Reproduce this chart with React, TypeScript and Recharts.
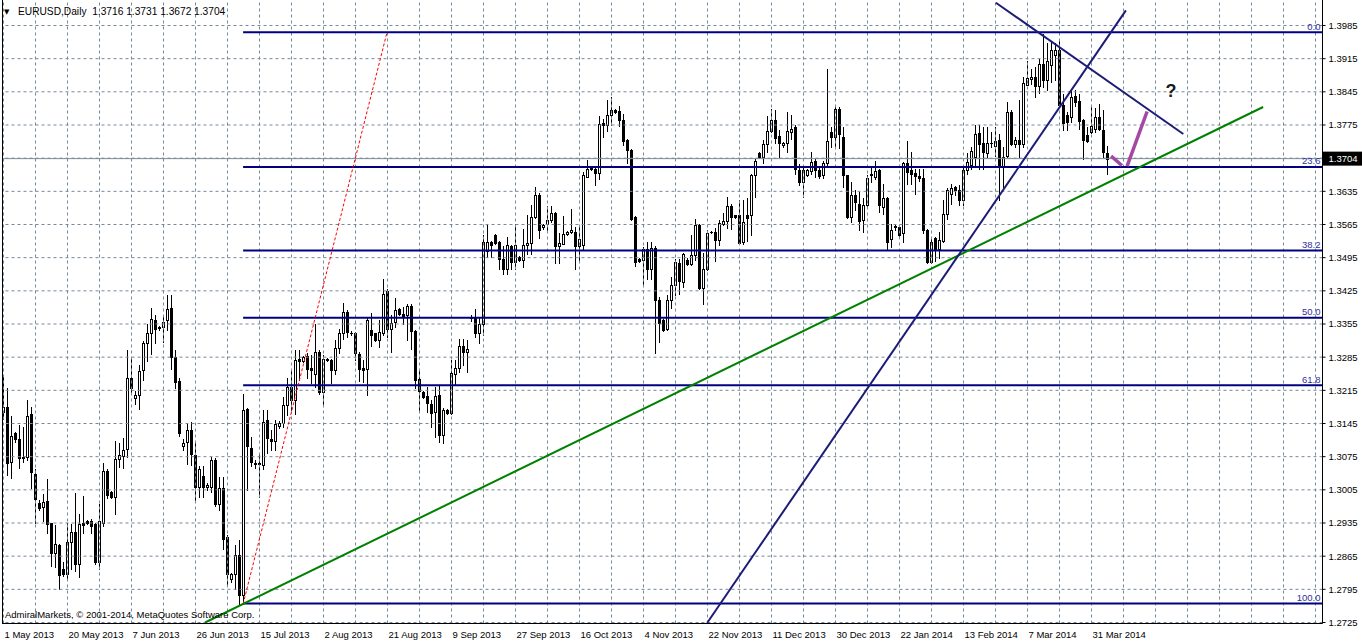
import React from 'react';
import { ComposedChart, Bar, XAxis, YAxis, ReferenceLine, ReferenceDot } from 'recharts';

// ---- daily candles (bar index 0 = 1 May 2013 ... 276 = 4 Apr 2014) ----
const opens = [
  1.3170,1.3179,1.3064,1.3124,1.3112,1.3075,1.3074,1.3166,1.3038,1.2977,
  1.2968,1.2981,1.2934,1.2872,1.2888,1.2837,1.2828,1.2895,1.2915,1.2848,
  1.2935,1.2939,1.2939,1.2932,1.2853,1.2936,1.3045,1.3000,1.2990,1.3070,
  1.3076,1.3092,1.3240,1.3198,1.3205,1.3257,1.3314,1.3337,1.3364,1.3346,
  1.3348,1.3363,1.3388,1.3285,1.3235,1.3098,1.3105,1.3131,1.3078,1.3011,
  1.3034,1.3012,1.3012,1.3067,1.2976,1.3008,1.2906,1.2816,1.2827,1.2867,
  1.2783,1.3176,1.3094,1.3062,1.3059,1.3058,1.3152,1.3113,1.3108,1.3139,
  1.3146,1.3183,1.3222,1.3194,1.3282,1.3277,1.3287,1.3262,1.3250,1.3296,
  1.3212,1.3280,1.3280,1.3257,1.3305,1.3336,1.3380,1.3336,1.3336,1.3292,
  1.3262,1.3259,1.3343,1.3335,1.3321,1.3335,1.3424,1.3345,1.3359,1.3386,
  1.3377,1.3373,1.3392,1.3340,1.3238,1.3212,1.3203,1.3187,1.3169,1.3205,
  1.3120,1.3174,1.3167,1.3250,1.3263,1.3308,1.3296,1.3368,1.3370,1.3336,
  1.3356,1.3509,1.3528,1.3542,1.3528,1.3493,1.3472,1.3519,1.3486,1.3496,
  1.3491,1.3521,1.3525,1.3580,1.3628,1.3559,1.3567,1.3574,1.3589,1.3519,
  1.3524,1.3545,1.3549,1.3550,1.3519,1.3521,1.3666,1.3682,1.3683,1.3674,
  1.3779,1.3776,1.3797,1.3807,1.3804,1.3786,1.3743,1.3723,1.3581,1.3493,
  1.3491,1.3514,1.3472,1.3516,1.3406,1.3363,1.3345,1.3406,1.3437,1.3483,
  1.3444,1.3491,1.3481,1.3500,1.3563,1.3430,1.3472,1.3549,1.3549,1.3533,
  1.3567,1.3572,1.3603,1.3584,1.3584,1.3528,1.3584,1.3586,1.3669,1.3715,
  1.3707,1.3735,1.3762,1.3785,1.3751,1.3732,1.3738,1.3760,1.3771,1.3681,
  1.3655,1.3670,1.3677,1.3698,1.3681,1.3670,1.3694,1.3761,1.3749,1.3808,
  1.3750,1.3669,1.3581,1.3628,1.3609,1.3574,1.3606,1.3672,1.3665,1.3679,
  1.3602,1.3620,1.3535,1.3559,1.3560,1.3548,1.3694,1.3679,1.3674,1.3667,
  1.3663,1.3553,1.3486,1.3536,1.3514,1.3530,1.3588,1.3630,1.3644,1.3637,
  1.3616,1.3679,1.3690,1.3707,1.3759,1.3737,1.3716,1.3736,1.3731,1.3744,
  1.3687,1.3709,1.3802,1.3734,1.3744,1.3734,1.3860,1.3873,1.3877,1.3857,
  1.3903,1.3871,1.3901,1.3922,1.3934,1.3817,1.3796,1.3792,1.3837,1.3826,
  1.3785,1.3753,1.3760,1.3767,1.3792,1.3764,1.3716,
];
const highs = [
  1.3243,1.3219,1.3160,1.3128,1.3142,1.3138,1.3194,1.3180,1.3050,1.2984,
  1.2997,1.3028,1.2935,1.2930,1.2890,1.2852,1.2934,1.2932,1.2998,1.2955,
  1.2993,1.2941,1.2944,1.2934,1.2976,1.3061,1.3049,1.3002,1.3108,1.3103,
  1.3115,1.3300,1.3285,1.3213,1.3268,1.3319,1.3356,1.3389,1.3373,1.3350,
  1.3373,1.3416,1.3416,1.3300,1.3240,1.3113,1.3145,1.3148,1.3103,1.3055,
  1.3055,1.3020,1.3075,1.3072,1.3032,1.3032,1.2910,1.2830,1.2888,1.2899,
  1.3208,1.3178,1.3117,1.3068,1.3081,1.3173,1.3173,1.3131,1.3152,1.3150,
  1.3201,1.3240,1.3261,1.3300,1.3300,1.3288,1.3293,1.3290,1.3356,1.3300,
  1.3289,1.3283,1.3282,1.3321,1.3345,1.3400,1.3385,1.3340,1.3338,1.3295,
  1.3280,1.3368,1.3378,1.3337,1.3363,1.3451,1.3428,1.3373,1.3409,1.3389,
  1.3391,1.3398,1.3398,1.3342,1.3257,1.3213,1.3222,1.3194,1.3222,1.3226,
  1.3177,1.3176,1.3280,1.3280,1.3324,1.3324,1.3322,1.3374,1.3386,1.3370,
  1.3543,1.3567,1.3530,1.3545,1.3531,1.3519,1.3539,1.3521,1.3565,1.3498,
  1.3556,1.3584,1.3607,1.3644,1.3631,1.3566,1.3605,1.3605,1.3591,1.3547,
  1.3582,1.3552,1.3597,1.3560,1.3560,1.3675,1.3702,1.3685,1.3686,1.3793,
  1.3788,1.3827,1.3834,1.3809,1.3816,1.3799,1.3745,1.3725,1.3582,1.3495,
  1.3517,1.3528,1.3528,1.3519,1.3412,1.3365,1.3416,1.3454,1.3493,1.3493,
  1.3505,1.3494,1.3542,1.3577,1.3567,1.3504,1.3553,1.3552,1.3558,1.3575,
  1.3589,1.3622,1.3609,1.3586,1.3616,1.3616,1.3620,1.3672,1.3704,1.3718,
  1.3744,1.3795,1.3809,1.3806,1.3764,1.3740,1.3802,1.3797,1.3774,1.3693,
  1.3690,1.3682,1.3717,1.3704,1.3686,1.3700,1.3894,1.3771,1.3817,1.3813,
  1.3771,1.3670,1.3655,1.3637,1.3634,1.3620,1.3669,1.3686,1.3700,1.3683,
  1.3651,1.3623,1.3567,1.3567,1.3563,1.3697,1.3741,1.3718,1.3683,1.3683,
  1.3683,1.3555,1.3537,1.3538,1.3549,1.3616,1.3642,1.3651,1.3646,1.3648,
  1.3686,1.3715,1.3728,1.3774,1.3774,1.3771,1.3771,1.3760,1.3771,1.3757,
  1.3728,1.3823,1.3806,1.3750,1.3827,1.3876,1.3911,1.3894,1.3897,1.3915,
  1.3967,1.3948,1.3950,1.3947,1.3954,1.3841,1.3803,1.3848,1.3848,1.3841,
  1.3788,1.3771,1.3817,1.3810,1.3820,1.3806,1.3731,
];
const lows = [
  1.3155,1.3036,1.3031,1.3106,1.3051,1.3063,1.3068,1.3009,1.2934,1.2963,
  1.2939,1.2913,1.2844,1.2842,1.2795,1.2823,1.2818,1.2837,1.2834,1.2820,
  1.2913,1.2933,1.2914,1.2848,1.2837,1.2929,1.2987,1.2987,1.2954,1.3053,
  1.3052,1.3074,1.3208,1.3186,1.3176,1.3236,1.3277,1.3292,1.3314,1.3343,
  1.3317,1.3342,1.3261,1.3219,1.3118,1.3090,1.3059,1.3057,1.2983,1.2990,
  1.2990,1.3005,1.3000,1.2970,1.2962,1.2881,1.2804,1.2810,1.2795,1.2762,
  1.2765,1.3004,1.3055,1.3052,1.2990,1.3050,1.3082,1.3089,1.3089,1.3136,
  1.3138,1.3162,1.3173,1.3166,1.3236,1.3274,1.3240,1.3230,1.3222,1.3208,
  1.3187,1.3276,1.3231,1.3250,1.3293,1.3324,1.3328,1.3332,1.3278,1.3235,
  1.3232,1.3205,1.3308,1.3320,1.3307,1.3331,1.3328,1.3296,1.3349,1.3375,
  1.3356,1.3321,1.3303,1.3219,1.3169,1.3198,1.3169,1.3138,1.3117,1.3106,
  1.3103,1.3165,1.3165,1.3228,1.3254,1.3268,1.3254,1.3362,1.3328,1.3315,
  1.3331,1.3496,1.3496,1.3524,1.3472,1.3461,1.3461,1.3472,1.3472,1.3489,
  1.3475,1.3503,1.3503,1.3578,1.3537,1.3556,1.3549,1.3570,1.3484,1.3484,
  1.3523,1.3542,1.3546,1.3472,1.3490,1.3511,1.3666,1.3680,1.3649,1.3662,
  1.3750,1.3762,1.3774,1.3800,1.3772,1.3732,1.3694,1.3574,1.3477,1.3486,
  1.3437,1.3451,1.3449,1.3293,1.3317,1.3341,1.3342,1.3388,1.3416,1.3418,
  1.3433,1.3480,1.3479,1.3491,1.3428,1.3398,1.3468,1.3546,1.3489,1.3521,
  1.3563,1.3558,1.3556,1.3579,1.3523,1.3523,1.3530,1.3542,1.3623,1.3705,
  1.3694,1.3718,1.3760,1.3736,1.3707,1.3729,1.3718,1.3746,1.3672,1.3649,
  1.3623,1.3668,1.3672,1.3665,1.3663,1.3663,1.3690,1.3728,1.3728,1.3726,
  1.3644,1.3578,1.3570,1.3595,1.3553,1.3549,1.3602,1.3655,1.3660,1.3591,
  1.3588,1.3514,1.3518,1.3553,1.3539,1.3528,1.3651,1.3651,1.3630,1.3656,
  1.3546,1.3483,1.3483,1.3489,1.3494,1.3528,1.3577,1.3609,1.3627,1.3606,
  1.3606,1.3672,1.3683,1.3686,1.3683,1.3683,1.3707,1.3729,1.3710,1.3616,
  1.3644,1.3707,1.3732,1.3729,1.3707,1.3729,1.3860,1.3862,1.3834,1.3843,
  1.3855,1.3848,1.3866,1.3869,1.3813,1.3764,1.3764,1.3781,1.3816,1.3767,
  1.3704,1.3739,1.3758,1.3760,1.3764,1.3707,1.3672,
];
const closes = [
  1.3180,1.3062,1.3118,1.3112,1.3072,1.3073,1.3160,1.3043,1.2985,1.2967,
  1.2979,1.2932,1.2872,1.2890,1.2826,1.2828,1.2895,1.2915,1.2848,1.2932,
  1.2930,1.2935,1.2929,1.2853,1.2939,1.3045,1.2995,1.2990,1.3071,1.3078,
  1.3090,1.3240,1.3219,1.3205,1.3255,1.3314,1.3337,1.3366,1.3345,1.3348,
  1.3360,1.3386,1.3285,1.3232,1.3124,1.3104,1.3131,1.3080,1.3011,1.3050,
  1.3012,1.3015,1.3067,1.2976,1.3008,1.2902,1.2828,1.2827,1.2868,1.2783,
  1.3174,1.3097,1.3063,1.3059,1.3062,1.3148,1.3115,1.3108,1.3145,1.3146,
  1.3183,1.3222,1.3194,1.3280,1.3277,1.3285,1.3259,1.3258,1.3296,1.3212,
  1.3282,1.3281,1.3257,1.3305,1.3336,1.3380,1.3338,1.3337,1.3293,1.3259,
  1.3258,1.3364,1.3331,1.3321,1.3338,1.3419,1.3345,1.3358,1.3384,1.3377,
  1.3371,1.3392,1.3340,1.3236,1.3214,1.3200,1.3188,1.3167,1.3203,1.3120,
  1.3174,1.3167,1.3252,1.3263,1.3308,1.3296,1.3302,1.3370,1.3336,1.3355,
  1.3528,1.3528,1.3521,1.3526,1.3493,1.3472,1.3521,1.3486,1.3521,1.3491,
  1.3521,1.3526,1.3581,1.3627,1.3553,1.3564,1.3575,1.3589,1.3519,1.3526,
  1.3545,1.3550,1.3553,1.3519,1.3535,1.3669,1.3683,1.3684,1.3674,1.3778,
  1.3776,1.3797,1.3807,1.3802,1.3786,1.3741,1.3722,1.3577,1.3486,1.3488,
  1.3514,1.3472,1.3516,1.3406,1.3357,1.3343,1.3406,1.3437,1.3486,1.3446,
  1.3502,1.3481,1.3500,1.3563,1.3430,1.3472,1.3547,1.3550,1.3532,1.3568,
  1.3572,1.3603,1.3581,1.3581,1.3525,1.3570,1.3579,1.3669,1.3700,1.3707,
  1.3735,1.3763,1.3785,1.3747,1.3736,1.3738,1.3762,1.3767,1.3683,1.3655,
  1.3681,1.3680,1.3696,1.3679,1.3667,1.3694,1.3741,1.3749,1.3808,1.3757,
  1.3669,1.3581,1.3627,1.3612,1.3572,1.3606,1.3663,1.3669,1.3677,1.3606,
  1.3620,1.3528,1.3553,1.3561,1.3542,1.3694,1.3675,1.3671,1.3667,1.3663,
  1.3553,1.3486,1.3528,1.3514,1.3532,1.3588,1.3638,1.3642,1.3637,1.3616,
  1.3679,1.3697,1.3721,1.3757,1.3734,1.3718,1.3737,1.3738,1.3742,1.3687,
  1.3708,1.3802,1.3734,1.3744,1.3734,1.3864,1.3874,1.3876,1.3857,1.3903,
  1.3871,1.3911,1.3933,1.3934,1.3817,1.3780,1.3781,1.3834,1.3823,1.3783,
  1.3743,1.3741,1.3772,1.3792,1.3767,1.3718,1.3704,
];

// ---- axes ----
const dateLabels = [
  '1 May 2013', '20 May 2013', '7 Jun 2013', '26 Jun 2013', '15 Jul 2013', '2 Aug 2013',
  '21 Aug 2013', '9 Sep 2013', '27 Sep 2013', '16 Oct 2013', '4 Nov 2013', '22 Nov 2013',
  '11 Dec 2013', '30 Dec 2013', '22 Jan 2014', '13 Feb 2014', '7 Mar 2014', '31 Mar 2014',
];
const dateTickIndex = [0, 16, 32, 48, 64, 80, 96, 112, 128, 144, 160, 176, 192, 208, 224, 240, 256, 272];
const gridPrices = [
  1.2725, 1.2795, 1.2865, 1.2935, 1.3005, 1.3075, 1.3145, 1.3215, 1.3285, 1.3355,
  1.3425, 1.3495, 1.3565, 1.3635, 1.3705, 1.3775, 1.3845, 1.3915, 1.3985,
];
const lastPrice = 1.3704;
const priceLabelTicks = gridPrices.filter((p) => Math.abs(p - lastPrice) > 0.002);
const gridBarStep = 8;
const xDomain: [number, number] = [-0.375, 329.75];
const yDomain: [number, number] = [1.27229, 1.40388];

// ---- objects drawn on the chart ----
const fibHigh = 1.3971;
const fibLow = 1.2765;
const fibLevels = [0, 23.6, 38.2, 50, 61.8, 100];
const fibStartBar = 59.9;

const greenTrend = [{ x: 50.4, y: 1.2725 }, { x: 314.9, y: 1.3813 }];
const steepTrend = [{ x: 175.9, y: 1.2724 }, { x: 280.6, y: 1.4017 }];
const fallingTrend = [{ x: 248.1, y: 1.40331 }, { x: 294.95, y: 1.3756 }];
const redDotted = [{ x: 59.9, y: 1.2764 }, { x: 95.9, y: 1.39713 }];
const purpleDown = [{ x: 276.9, y: 1.37095 }, { x: 279.6, y: 1.36895 }];
const purpleUp = [{ x: 280.9, y: 1.36884 }, { x: 285.9, y: 1.38035 }];
const questionMark = { x: 291.9, y: 1.3847, text: '?' };

const titleText = 'EURUSD,Daily  1.3716 1.3731 1.3672 1.3704';
const copyrightText = 'AdmiralMarkets, \u00A9 2001-2014, MetaQuotes Software Corp.';

const FONT = '"Liberation Sans", Arial, sans-serif';
const FS = 9.5;

const data = opens.map((o, i) => ({
  i,
  o,
  h: highs[i],
  l: lows[i],
  c: closes[i],
  range: [lows[i], highs[i]],
}));

const gridBars: number[] = [];
for (let v = 0; v <= xDomain[1]; v += gridBarStep) gridBars.push(v);

const Candle = (props: any) => {
  const { x, y, width, height, payload } = props;
  if (!payload) return null;
  const { o, h, l, c } = payload;
  const top = Math.min(y, y + height);
  const bot = Math.max(y, y + height);
  const span = h - l;
  const py = (p: number) => (span > 0 ? top + ((h - p) / span) * (bot - top) : top);
  const cx = Math.round(x + width / 2 - 0.5) + 0.5;
  const yt = Math.round(top);
  const yb = Math.round(bot);
  const yo = Math.round(py(o));
  const yc = Math.round(py(c));
  const bTop = Math.min(yo, yc);
  const bBot = Math.max(yo, yc);
  const bull = c >= o;
  return (
    <g>
      <line x1={cx} x2={cx} y1={yt} y2={yb + 1} stroke="#000" strokeWidth={1} />
      {bBot - bTop < 1 ? (
        <line x1={cx - 1.5} x2={cx + 1.5} y1={bTop + 0.5} y2={bTop + 0.5} stroke="#000" strokeWidth={1} />
      ) : (
        <rect x={cx - 1} y={bTop + 0.5} width={2} height={bBot - bTop} fill={bull ? '#fff' : '#000'} stroke="#000" strokeWidth={1} />
      )}
    </g>
  );
};

const DateTick = (props: any) => {
  const { x, y, payload } = props;
  const k = dateTickIndex.indexOf(payload.value);
  if (k < 0) return null;
  return (
    <text x={x + 1} y={y + 14.5} fontSize={FS} fontFamily={FONT} fill="#000" textAnchor="start">
      {dateLabels[k]}
    </text>
  );
};

const FibLabel = (props: any) => {
  const { viewBox, text } = props;
  if (!viewBox) return null;
  return (
    <text x={viewBox.x + viewBox.width - 2} y={viewBox.y - 2.5} fontSize={FS} fontFamily={FONT} fill="#3030a0" textAnchor="end">
      {text}
    </text>
  );
};

const PriceBox = (props: any) => {
  const { viewBox, text } = props;
  if (!viewBox) return null;
  const bx = viewBox.x + viewBox.width + 0.5;
  return (
    <g>
      <rect x={bx} y={viewBox.y - 7} width={40} height={14} fill="#000" />
      <text x={bx + 5.5} y={viewBox.y + 3.5} fontSize={FS} fontFamily={FONT} fill="#fff" textAnchor="start">
        {text}
      </text>
    </g>
  );
};

const QLabel = (props: any) => {
  const { viewBox, text } = props;
  if (!viewBox) return null;
  return (
    <text x={viewBox.x} y={viewBox.y + 6} fontSize={18} fontWeight="bold" fontFamily={FONT} fill="#1a1a1a" textAnchor="middle">
      {text}
    </text>
  );
};

export default function App() {
  return (
    <div style={{ position: 'absolute', left: 0, top: 0, width: 1362, height: 643, background: '#fff' }}>
      <style>{'body{margin:0;background:#fff}'}</style>
      <ComposedChart
        width={1362}
        height={643}
        data={data}
        margin={{ top: 0, right: 0, bottom: 0, left: 2 }}
        style={{ fontFamily: FONT }}
      >
        <XAxis
          dataKey="i"
          type="number"
          domain={xDomain}
          allowDataOverflow
          ticks={dateTickIndex}
          interval={0}
          height={19.5}
          tickLine={false}
          tickSize={0}
          tickMargin={0}
          axisLine={{ stroke: '#000' }}
          tick={<DateTick />}
        />
        <YAxis
          orientation="right"
          type="number"
          domain={yDomain}
          allowDataOverflow
          ticks={priceLabelTicks}
          interval={0}
          width={39.5}
          tickSize={3}
          tickMargin={3}
          tickLine={{ stroke: '#000' }}
          axisLine={{ stroke: '#000' }}
          tick={{ fontSize: FS, fontFamily: FONT, fill: '#000' }}
          tickFormatter={(v: number) => v.toFixed(4)}
        />

        {gridBars.map((v) => (
          <ReferenceLine key={'gx' + v} x={v} stroke="#778899" strokeWidth={1} strokeDasharray="3 3" ifOverflow="visible" />
        ))}
        {gridPrices.map((p) => (
          <ReferenceLine key={'gy' + p} y={p} stroke="#778899" strokeWidth={1} strokeDasharray="3 3" ifOverflow="visible" />
        ))}

        <Bar dataKey="range" barSize={3} shape={<Candle />} isAnimationActive={false} />

        <ReferenceLine
          y={lastPrice}
          stroke="#7a8a9a"
          strokeWidth={1}
          ifOverflow="visible"
          label={<PriceBox text={lastPrice.toFixed(4)} />}
        />

        {fibLevels.map((lv) => {
          const p = fibHigh - (lv / 100) * (fibHigh - fibLow);
          return (
            <ReferenceLine
              key={'fib' + lv}
              segment={[{ x: fibStartBar, y: p }, { x: xDomain[1], y: p }]}
              stroke="#000080"
              strokeWidth={2}
              ifOverflow="visible"
              label={<FibLabel text={lv.toFixed(1)} />}
            />
          );
        })}

        <ReferenceLine segment={redDotted} stroke="#ff0000" strokeWidth={1} strokeDasharray="3 2" ifOverflow="visible" />
        <ReferenceLine segment={greenTrend} stroke="#008000" strokeWidth={2} ifOverflow="visible" />
        <ReferenceLine segment={steepTrend} stroke="#1c1c78" strokeWidth={2} ifOverflow="visible" />
        <ReferenceLine segment={fallingTrend} stroke="#1c1c78" strokeWidth={2} ifOverflow="visible" />
        <ReferenceLine segment={purpleDown} stroke="#a349a4" strokeWidth={3.5} ifOverflow="visible" />
        <ReferenceLine segment={purpleUp} stroke="#a349a4" strokeWidth={3.5} ifOverflow="visible" />

        <ReferenceDot
          x={questionMark.x}
          y={questionMark.y}
          r={0}
          fill="none"
          stroke="none"
          ifOverflow="visible"
          label={<QLabel text={questionMark.text} />}
        />
      </ComposedChart>

      <svg
        width={1362}
        height={643}
        style={{ position: 'absolute', left: 0, top: 0, pointerEvents: 'none' }}
      >
        <line x1={2.5} x2={2.5} y1={0} y2={624} stroke="#000" strokeWidth={1} />
        <text x={4} y={13.5} fontSize={7} fontFamily='"DejaVu Sans", sans-serif' fill="#000">
          {'\u25BC'}
        </text>
        <text x={18} y={15} fontSize={10.2} fontFamily={FONT} fill="#000" xmlSpace="preserve" style={{ whiteSpace: 'pre' }}>
          {titleText}
        </text>
        <text x={5} y={618} fontSize={FS} fontFamily={FONT} fill="#000">
          {copyrightText}
        </text>
      </svg>
    </div>
  );
}
